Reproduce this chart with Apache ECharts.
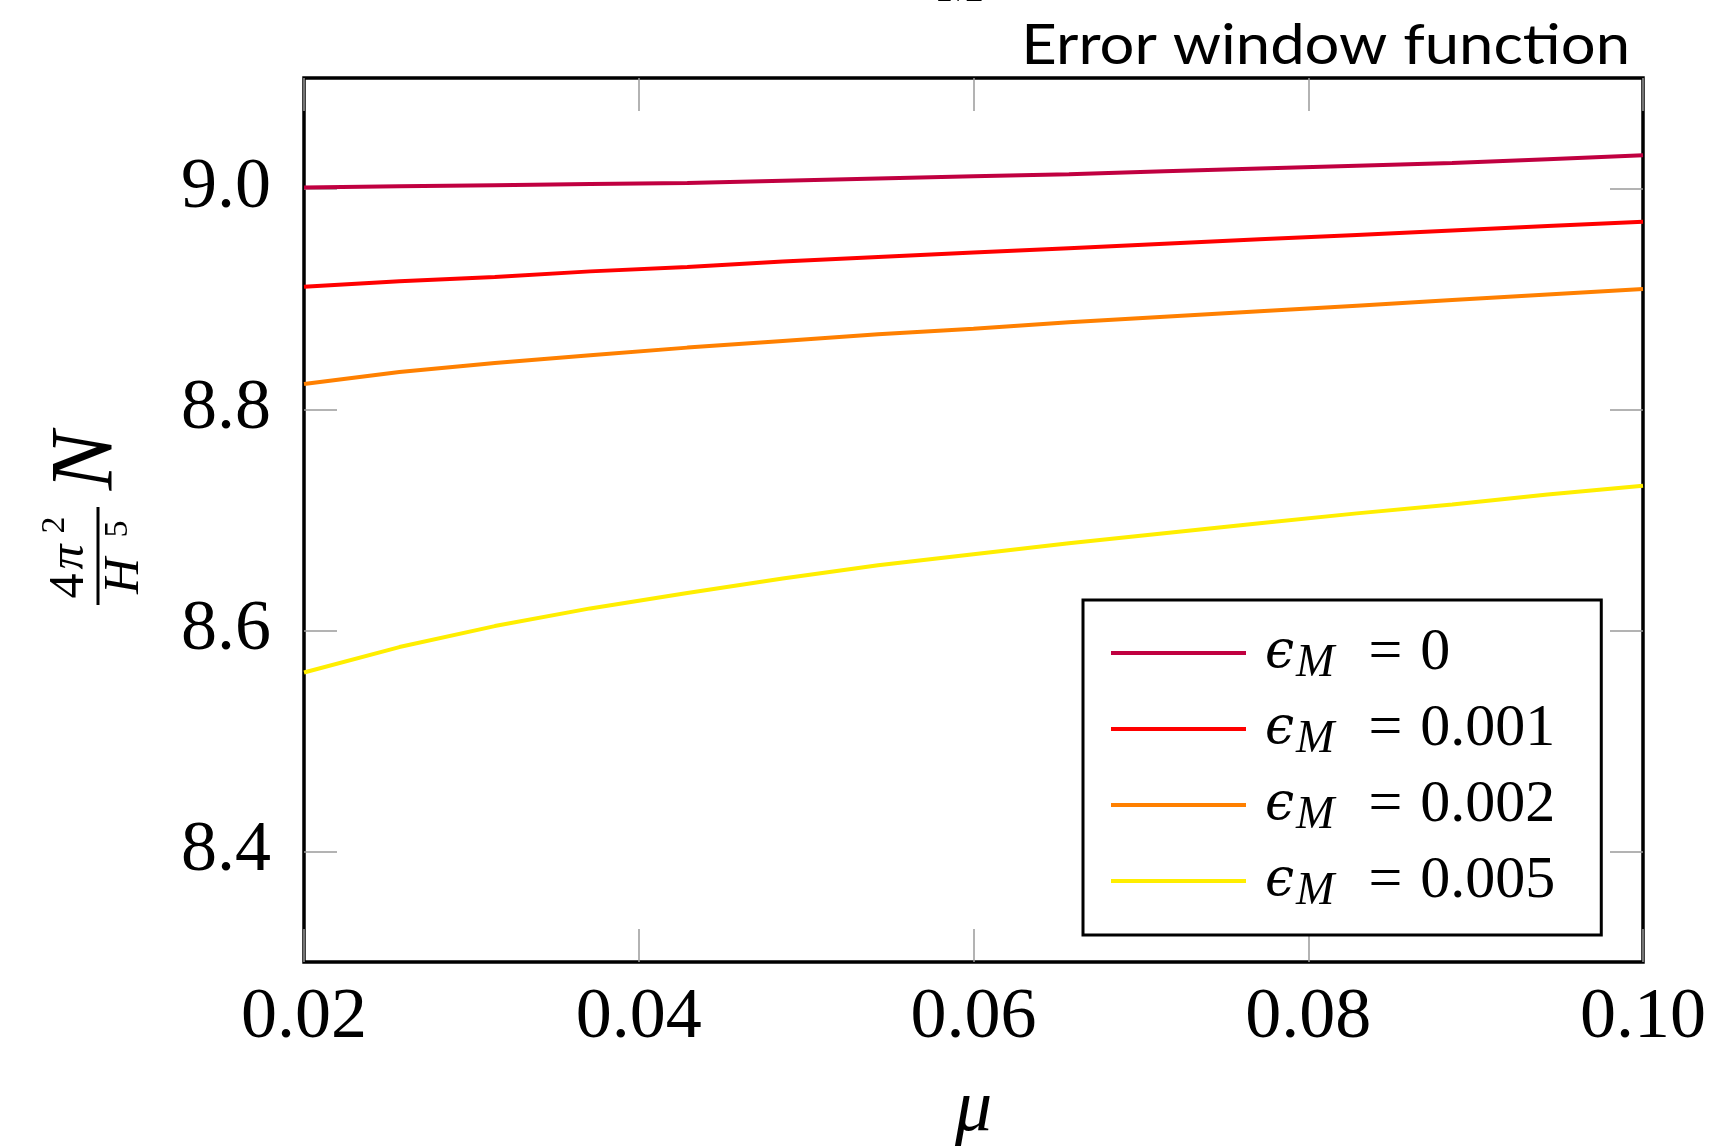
<!DOCTYPE html>
<html>
<head>
<meta charset="utf-8">
<title>Error window function</title>
<script src="https://cdn.jsdelivr.net/npm/echarts@6/dist/echarts.min.js"></script>
<style>
  html, body { margin: 0; padding: 0; background: #fff; }
  #chart { width: 1733px; height: 1148px; }
</style>
</head>
<body>
<div id="chart"></div>
<script>
// mu sample positions (shared by all curves)
const mu = [0.02, 0.0257, 0.0314, 0.0371, 0.0429, 0.0486, 0.0543, 0.06,
            0.0657, 0.0714, 0.0771, 0.0829, 0.0886, 0.0943, 0.1];

// normalised N for each error-window amplitude eps_M
const epsLabels = ['0', '0.001', '0.002', '0.005'];
const eps0     = [9.001, 9.002, 9.003, 9.004, 9.005, 9.007, 9.009, 9.011,
                  9.013, 9.0155, 9.018, 9.0205, 9.023, 9.0265, 9.030];
const eps0001  = [8.911, 8.916, 8.920, 8.925, 8.929, 8.934, 8.938, 8.942,
                  8.946, 8.950, 8.954, 8.958, 8.962, 8.966, 8.970];
const eps0002  = [8.823, 8.834, 8.842, 8.849, 8.856, 8.862, 8.868, 8.873,
                  8.879, 8.884, 8.889, 8.894, 8.899, 8.904, 8.909];
const eps0005  = [8.562, 8.585, 8.604, 8.620, 8.634, 8.647, 8.659, 8.669,
                  8.679, 8.688, 8.697, 8.706, 8.714, 8.723, 8.731];

const xTicks = [0.02, 0.04, 0.06, 0.08, 0.10];
const yTicks = [8.4, 8.6, 8.8, 9.0];

const colors = ['#c00040', '#ff0000', '#ff8000', '#ffee00'];
const curves = [eps0, eps0001, eps0002, eps0005];

const SERIF = "'Liberation Serif', 'DejaVu Serif', serif";
const tickStyle = { color: '#9a9a9a', width: 1.5 };

const chart = echarts.init(document.getElementById('chart'), null, { renderer: 'canvas' });

const series = curves.map((vals, i) => ({
  name: epsLabels[i],
  type: 'line',
  data: mu.map((m, k) => [m, vals[k]]),
  symbol: 'none',
  showSymbol: false,
  smooth: false,
  lineStyle: { color: colors[i], width: 4 },
  itemStyle: { color: colors[i] },
  xAxisIndex: 0,
  yAxisIndex: 0
}));

const xBase = {
  type: 'value', min: 0.02, max: 0.1, interval: 0.02,
  axisLine: { show: false },
  splitLine: { show: false },
  axisTick: { show: true, inside: true, length: 33, lineStyle: tickStyle }
};
const yBase = {
  type: 'value', min: 8.3, max: 9.1,
  axisLine: { show: false },
  splitLine: { show: false },
  axisTick: { show: true, inside: true, length: 33, lineStyle: tickStyle, customValues: yTicks }
};

chart.setOption({
  animation: false,
  backgroundColor: '#fff',
  grid: {
    left: 304, right: 90, top: 78, bottom: 186,
    outerBoundsMode: 'none',
    containLabel: false,
    show: true, borderColor: '#000', borderWidth: 3.5, backgroundColor: 'transparent'
  },
  xAxis: [
    Object.assign({}, xBase, {
      position: 'bottom',
      axisLabel: {
        show: true, margin: 20, fontSize: 72, fontFamily: SERIF, color: '#000',
        customValues: xTicks,
        formatter: v => v.toFixed(2)
      },
      name: 'μ', nameLocation: 'middle', nameGap: 112,
      nameTextStyle: { fontSize: 74, fontFamily: SERIF, fontStyle: 'italic', color: '#000' }
    }),
    Object.assign({}, xBase, { position: 'top', axisLabel: { show: false } })
  ],
  yAxis: [
    Object.assign({}, yBase, {
      position: 'left',
      axisLabel: {
        show: true, margin: 33, fontSize: 72, fontFamily: SERIF, color: '#000',
        customValues: yTicks,
        formatter: v => v.toFixed(1)
      }
    }),
    Object.assign({}, yBase, { position: 'right', axisLabel: { show: false } })
  ],
  legend: {
    orient: 'vertical',
    left: 1083, top: 600,
    padding: [23, 46, 20, 28],
    icon: 'rect',
    itemWidth: 135, itemHeight: 4, itemGap: 12,
    borderColor: '#000', borderWidth: 3, backgroundColor: '#fff',
    selectedMode: false,
    data: epsLabels,
    formatter: name => '{e|ϵ}{m|M}{eq|=}{v|' + name + '}',
    textStyle: {
      color: '#000',
      padding: [0, 0, 0, 14],
      rich: {
        e:  { fontSize: 52, fontFamily: "'DejaVu Serif', serif", fontStyle: 'italic', color: '#000', lineHeight: 56 },
        m:  { fontSize: 46, fontFamily: SERIF, fontStyle: 'italic', color: '#000', padding: [22, 0, 0, 2] },
        eq: { fontSize: 60, fontFamily: SERIF, color: '#000', lineHeight: 56, padding: [0, 18, 0, 34] },
        v:  { fontSize: 60, fontFamily: SERIF, color: '#000', lineHeight: 56 }
      }
    }
  },
  graphic: [
    // heading at top right
    {
      type: 'text', x: 1630, y: 46, scaleX: 1.08, silent: true,
      style: {
        text: 'Error window function', fill: '#000',
        font: "57px Lato, 'Open Sans', sans-serif",
        textAlign: 'right', textVerticalAlign: 'middle'
      }
    },
    // clipped subscript from the line above
    {
      type: 'text', x: 962, y: -14, silent: true,
      style: {
        text: 'M', fill: '#000', font: 'italic 56px ' + SERIF,
        textAlign: 'center', textVerticalAlign: 'middle'
      }
    },
    // y axis label: (4π²/H⁵) N, read bottom to top
    {
      type: 'group', x: 98, y: 556, rotation: Math.PI / 2, silent: true,
      children: [
        { type: 'text', x: -30, y: -28, style: { text: '4', fill: '#000', font: '50px ' + SERIF, textAlign: 'center', textVerticalAlign: 'middle' } },
        { type: 'text', x: -1, y: -28, style: { text: 'π', fill: '#000', font: 'italic 50px ' + SERIF, textAlign: 'center', textVerticalAlign: 'middle' } },
        { type: 'text', x: 31, y: -43, style: { text: '2', fill: '#000', font: '34px ' + SERIF, textAlign: 'center', textVerticalAlign: 'middle' } },
        { type: 'rect', shape: { x: -49, y: -1.5, width: 98, height: 3 }, style: { fill: '#000' } },
        { type: 'text', x: -20, y: 27, style: { text: 'H', fill: '#000', font: 'italic 50px ' + SERIF, textAlign: 'center', textVerticalAlign: 'middle' } },
        { type: 'text', x: 27, y: 20, style: { text: '5', fill: '#000', font: '34px ' + SERIF, textAlign: 'center', textVerticalAlign: 'middle' } },
        { type: 'text', x: 95, y: -10, style: { text: 'N', fill: '#000', font: 'italic 88px ' + SERIF, textAlign: 'center', textVerticalAlign: 'middle' } }
      ]
    }
  ],
  series: series
});
</script>
</body>
</html>
